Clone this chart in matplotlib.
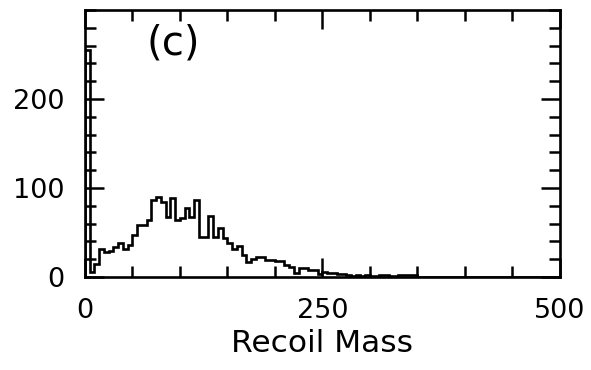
import numpy as np
import matplotlib
matplotlib.use("Agg")
import matplotlib.pyplot as plt
from matplotlib.ticker import MultipleLocator

# recoil mass histogram, 5-unit bins from 0 to 500
bin_width = 5
counts = [255, 6, 15, 32, 28, 29, 34, 38, 32, 36,
          47, 58, 58, 64, 87, 90, 84, 67, 89, 64,
          66, 77, 67, 87, 45, 45, 68, 45, 55, 44,
          38, 32, 35, 25, 17, 20, 22, 22, 19, 19,
          18, 18, 14, 11, 5, 10, 10, 8, 8, 3,
          6, 5, 5, 3, 3, 2, 1, 2, 1, 2,
          1, 1, 2, 2, 1, 1, 2, 2, 2, 2,
          0, 0, 0, 0, 0, 0, 0, 0, 0, 0,
          0, 0, 0, 0, 0, 0, 0, 0, 0, 0,
          0, 0, 0, 0, 0, 0, 0, 0, 0, 0]
edges = np.arange(0, 500 + bin_width, bin_width)

x_ticks = [0, 250, 500]
y_ticks = [0, 100, 200]
panel_label = "(c)"

plt.rcParams['font.family'] = ['DejaVu Sans']

fig = plt.figure(figsize=(5.91, 3.70), dpi=100)
ax = fig.add_axes([0.1438, 0.2514, 0.8037, 0.7216])

ax.stairs(counts, edges, color='black', linewidth=1.9)

ax.set_xlim(0, 500)
ax.set_ylim(0, 300)
ax.set_xticks(x_ticks)
ax.set_yticks(y_ticks)
ax.xaxis.set_minor_locator(MultipleLocator(50))
ax.yaxis.set_minor_locator(MultipleLocator(20))

ax.tick_params(which='both', direction='in', top=True, right=True, width=1.8, labelsize=19.5)
ax.tick_params(which='major', length=14, pad=15)
ax.tick_params(which='minor', length=8)
for s in ax.spines.values():
    s.set_linewidth(1.9)

ax.set_xlabel("Recoil Mass", fontsize=22.5, labelpad=4)
ax.text(92.5, 262, panel_label, fontsize=29, ha='center', va='center')

fig.savefig("out.png", dpi=100)
